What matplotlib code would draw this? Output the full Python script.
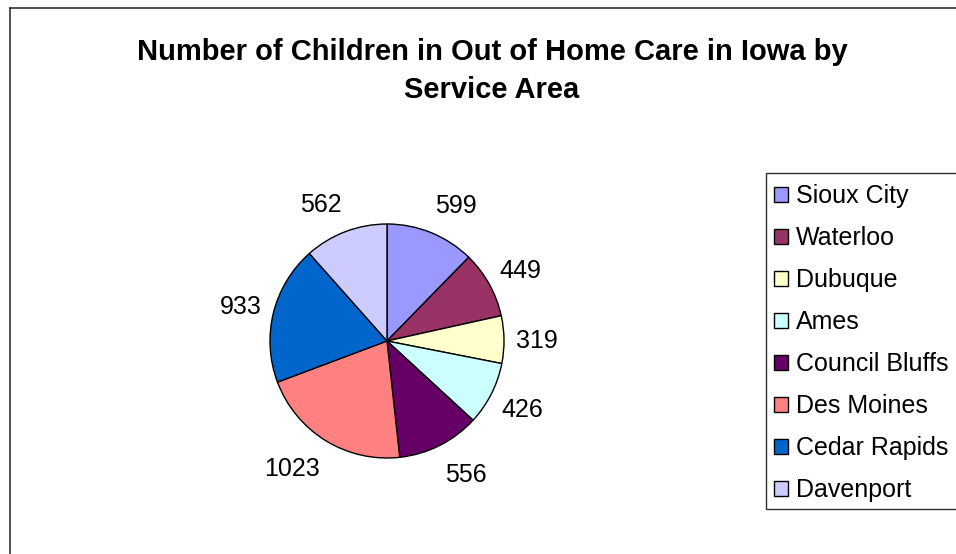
import matplotlib.pyplot as plt
from matplotlib.patches import Rectangle
from matplotlib.lines import Line2D
import numpy as np

areas = ['Sioux City', 'Waterloo', 'Dubuque', 'Ames', 'Council Bluffs',
         'Des Moines', 'Cedar Rapids', 'Davenport']
children = [599, 449, 319, 426, 556, 1023, 933, 562]
colors = ['#9999FF', '#993366', '#FFFFCC', '#CCFFFF', '#660066',
          '#FF8080', '#0066CC', '#CCCCFF']

plt.rcParams['font.family'] = ['Liberation Sans', 'DejaVu Sans']

W, H = 956, 554
fig = plt.figure(figsize=(W / 100, H / 100), dpi=100)
fig.patch.set_facecolor('white')

def px(x, y):
    # pixel position (from top-left) to figure fraction
    return x / W, 1 - y / H

# chart border (left and top edges show)
fig.add_artist(Line2D([9.5 / W, 9.5 / W], [0, 1 - 7.5 / H], transform=fig.transFigure,
                      color='#202020', lw=1.1))
fig.add_artist(Line2D([9.5 / W, 1], [1 - 7.5 / H, 1 - 7.5 / H], transform=fig.transFigure,
                      color='#202020', lw=1.1))

fig.text(492 / W, 1 - 71 / H,
         'Number of Children in Out of Home Care in Iowa by\nService Area',
         ha='center', va='center', fontsize=21, fontweight='bold', linespacing=1.42)

# pie axes: centre (387, 341), radius 117 px
cx, cy, r = 387, 341, 117
half = 1.5 * r
ax = fig.add_axes([(cx - half) / W, (H - cy - half) / H, 2 * half / W, 2 * half / H])

wedges, _ = ax.pie(children, colors=colors, startangle=90, counterclock=False,
                   wedgeprops=dict(edgecolor='black', linewidth=1.0))
ax.set_xlim(-1.5, 1.5)
ax.set_ylim(-1.5, 1.5)
ax.axis('off')

# value labels pushed out past the rim by half their width / height
fs = 18
unit = 3.0 / (2 * half)          # data units per pixel
renderer = fig.canvas.get_renderer()
for w, v in zip(wedges, children):
    mid = np.deg2rad((w.theta1 + w.theta2) / 2)
    ux, uy = np.cos(mid), np.sin(mid)
    t = ax.text(0, 0, str(v), ha='center', va='baseline', fontsize=fs)
    tw = t.get_window_extent(renderer).width * unit
    th = 0.72 * fs * 100 / 72 * unit
    x = 1.1 * ux + tw / 2 * np.clip(3 * ux, -1, 1)
    y = 1.1 * uy + 1.05 * th * uy
    t.set_position((x, y - th / 2))

# legend box
fig.add_artist(Rectangle(px(766, 509), (W + 10 - 766) / W, (509 - 173) / H,
                         transform=fig.transFigure, fill=False,
                         edgecolor='#303030', lw=1.0))
fig.legend(wedges, areas, loc='upper left', bbox_to_anchor=px(774, 184),
           frameon=False, fontsize=fs, handlelength=0.56, handleheight=0.56,
           handletextpad=0.32, labelspacing=0.72, borderpad=0, borderaxespad=0)

fig.savefig('out.png', dpi=100, facecolor='white')
